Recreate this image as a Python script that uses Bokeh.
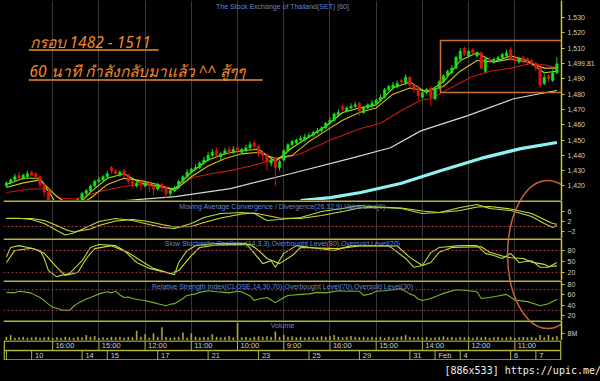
import numpy as np
from bokeh.plotting import figure
from bokeh.layouts import column
from bokeh.models import (Range1d, LinearAxis, FixedTicker, Grid, Span, Label,
                          BoxAnnotation, NumeralTickFormatter)
from bokeh.core.properties import value
from bokeh.embed import file_html
from bokeh.resources import INLINE

# ---------------- data ----------------
opens = [1420,1422,1424,1427,1425,1426,1429,1428,1426,1421,
         1416,1410,1406,1404,1403,1402,1404,1406,1411,1415,
         1417,1420,1423,1424,1426,1432,1430,1427,1430,1427,
         1423,1420,1423,1420,1422,1420,1418,1421,1419,1415,
         1417,1419,1423,1426,1429,1431,1432,1435,1437,1440,
         1443,1439,1441,1444,1442,1445,1442,1443,1445,1448,
         1446,1442,1440,1435,1438,1432,1437,1443,1447,1448,
         1450,1450,1452,1453,1455,1456,1458,1461,1463,1466,
         1472,1469,1471,1472,1474,1468,1471,1472,1474,1476,
         1478,1483,1484,1485,1489,1487,1491,1486,1484,1478,
         1481,1484,1477,1484,1488,1492,1494,1497,1503,1510,
         1505,1509,1505,1507,1495,1503,1501,1502,1504,1505,
         1509,1504,1501,1504,1503,1502,1500,1497,1487,1492,
         1489,1494]
closes = [1422,1424,1426,1425,1427,1428,1427,1426,1421,1416,
          1410,1406,1404,1403,1402,1404,1406,1411,1415,1417,
          1420,1423,1424,1426,1428,1430,1428,1429,1427,1423,
          1421,1422,1421,1422,1420,1418,1421,1419,1415,1417,
          1419,1423,1426,1429,1431,1432,1435,1437,1440,1442,
          1440,1441,1443,1442,1444,1443,1444,1445,1447,1446,
          1441,1440,1436,1437,1432,1436,1443,1447,1449,1450,
          1451,1452,1453,1455,1456,1458,1461,1463,1467,1468,
          1470,1471,1472,1473,1469,1471,1473,1474,1476,1478,
          1483,1485,1486,1487,1488,1491,1486,1483,1479,1481,
          1483,1478,1484,1488,1492,1495,1497,1504,1508,1506,
          1508,1507,1507,1497,1503,1502,1503,1504,1506,1507,
          1503,1502,1503,1502,1501,1500,1497,1486,1491,1490,
          1494,1499.81]
highs = [1423,1425,1428,1429,1428,1430,1430,1429,1427,1422,
         1417,1411,1407,1405,1404,1405,1407,1412,1416,1418,
         1421,1424,1426,1427,1430,1433,1431,1430,1431,1428,
         1424,1423,1424,1423,1423,1421,1422,1422,1420,1418,
         1420,1424,1427,1431,1432,1434,1436,1439,1442,1444,
         1445,1442,1445,1446,1446,1447,1445,1447,1449,1450,
         1447,1443,1441,1438,1439,1437,1444,1448,1450,1451,
         1453,1454,1455,1456,1458,1459,1462,1465,1468,1470,
         1473,1472,1474,1475,1475,1472,1474,1476,1477,1480,
         1484,1486,1488,1489,1490,1493,1492,1487,1485,1482,
         1484,1485,1485,1489,1493,1496,1499,1505,1510,1511,
         1509,1510,1508,1508,1504,1504,1504,1505,1507,1509,
         1511,1505,1504,1505,1504,1503,1501,1498,1493,1493,
         1496,1504]
lows = [1419,1421,1423,1424,1424,1425,1426,1425,1419,1413,
        1405,1403,1401,1400,1399,1400,1403,1405,1410,1414,
        1416,1419,1422,1423,1425,1428,1426,1426,1425,1421,
        1419,1419,1417,1419,1416,1414,1417,1416,1412,1413,
        1416,1418,1422,1425,1428,1430,1431,1434,1436,1439,
        1438,1437,1440,1440,1441,1441,1441,1442,1444,1444,
        1439,1436,1430,1433,1420,1430,1436,1442,1446,1447,
        1449,1449,1451,1452,1454,1455,1457,1460,1462,1465,
        1469,1468,1470,1471,1466,1467,1470,1471,1473,1475,
        1477,1482,1483,1484,1486,1486,1485,1481,1476,1477,
        1480,1472,1476,1483,1487,1491,1493,1496,1502,1505,
        1504,1505,1504,1496,1494,1500,1500,1501,1503,1504,
        1502,1500,1500,1500,1499,1498,1495,1484,1486,1488,
        1488,1493]
volume_m = [4,6,3,3.5,4,3,3.5,4,3,3.5,
            4,3,3.5,3,4,3.5,3,4,3.5,6,
            4,5,3,3.5,3,4,3.5,4,3,4,
            3.5,11,4,7,3,8,4,15,4,3,
            3.5,4,9,3,8,4,3.5,4,3.5,7,
            4,3.5,4,5,3.5,20,3.5,4,3,4,
            4.5,4,5,4,10,4,6,4,4.5,3.5,
            4,3,4,3.5,4,4.5,4,5,6,4,
            3.5,4,5,4,3.5,4,3.5,4,3.5,4,
            3,4,3.5,4,4.5,6,4,3.5,4,3.5,
            4,3,3.5,4,4.5,3.5,4,3,4,3.5,
            4,3,4,3.5,4,3,3.5,4,3,3.5,
            4,3,3.5,4,3.5,4,3,6,3.5,6,
            4,5]

# moving averages (knot bar index, price)
ma_fast_x = [0,4,8,12,16,20,24,28,32,36,40,44,48,52,56,60,64,68,72,76,80,84,88,92,96,100,104,108,112,116,120,124,128,131]
ma_fast_y = [1421,1425,1425,1408,1404,1416,1425,1428,1422,1420,1418,1429,1437,1441,1443,1444,1436,1445,1452,1459,1468,1471,1473,1484,1488,1481,1488,1502,1507,1501,1505,1502,1494,1495]
ma_mid_x = [0,4,8,12,16,20,24,28,32,36,40,44,48,52,56,60,64,68,72,76,80,84,88,92,96,100,104,108,112,116,120,124,128,131]
ma_mid_y = [1419,1422,1424,1413,1406,1412,1421,1425,1423.5,1421,1417,1426,1433,1438,1441,1442,1438,1440,1449,1456,1463,1468,1471,1480,1484,1482,1485,1495,1502,1501,1503,1501,1497,1497]
ma_slow_x = [0,5.7,9.3,12.9,16.4,22.4,28.3,33.1,36.7,40.2,43.8,48.6,53.3,58.1,62.9,66.4,70,77.1,84.3,89,93.8,98.6,101,105.7,110.5,115.2,120,124.8,128.3,131]
ma_slow_y = [1415.7,1418,1418,1412,1411.5,1416.5,1420,1421,1419,1418,1425,1428,1430,1433,1436.6,1438.6,1441,1450,1457.5,1461,1469,1476,1477,1484,1491,1495,1497,1500,1499,1497]
ma_long_x = [28.3,40.2,53.3,67.6,81.9,91.4,98.6,109.8,120.7,131]
ma_long_y = [1410.5,1413,1418.3,1428,1438,1445,1456,1466,1477,1482.4]
ma_200_x = [70,77.1,84.3,93.8,103.3,112.9,122.4,131]
ma_200_y = [1410.5,1412.4,1415.7,1421.6,1430,1438,1444.4,1448.4]

# MACD (26,12,9)
macd_x = [0,3,6,9,12,14,16,20,22,26,30,33,37,40,44,47,51,56,59,62,65,70,75,80,84,89,94,99,103,108,112,115,120,125,128,130,131]
macd_line = [3.3,3.3,2.8,1.2,-1.6,-3.4,-2.6,0.4,2.0,3.2,2.4,1.2,-0.4,-0.8,1.2,3.6,5.2,5.6,5.2,2.4,2.8,3.6,6.0,7.2,8.4,7.6,7.2,5.2,5.6,7.6,8.8,7.2,6.4,4.0,1.2,-0.4,0.4]
macd_signal = [3.2,3.2,3.2,2.4,0.4,-1.2,-2.2,-1.0,0.4,2.2,2.8,2.2,0.8,-0.2,0.0,1.6,3.4,5.0,5.4,4.4,3.4,3.2,4.4,6.0,7.4,7.8,7.4,6.2,5.6,6.4,7.8,8.0,7.0,5.2,2.8,1.2,0.9]

# Slow stochastic (14,3,3)
stk_x = [0,1,3,6,8,9,10,12,13,15,18,20,22,26,28,31,34,38,40,41,43,45,50,57,59,61,63,64,66,69,78,82,91,95,97,99,101,103,108,112,114,116,118,120,122,125,127,129,131]
stk_k = [62,88,93,86,80,58,25,8,12,17,52,88,96,93,80,47,31,20,14,47,80,93,99,99,72,44,52,34,72,93,80,93,93,58,34,39,74,88,93,93,72,66,58,72,47,52,34,34,47]
std_x = [0,2,6,9,12,14,17,19,21,25,29,32,35,39,41,44,46,50,58,60,62,65,68,70,79,84,93,96,99,101,103,106,113,115,118,120,123,125,128,129,131]
std_d = [47,80,86,72,34,12,20,58,85,93,74,52,31,17,25,66,88,95,97,80,58,44,66,88,85,92,92,61,39,47,75,88,90,75,65,60,58,48,42,36,38]

# RSI (14)
rsi_x = [0,2,3,5,6,8,9,10,11,12,13,14,15,16,17,19,20,22,24,25,26,27,28,29,30,32,33,35,36,38,39,40,42,43,45,46,48,50,52,53,55,56,58,59,60,62,63,64,66,67,70,72,74,76,79,81,84,85,87,88,90,92,94,96,97,98,99,101,103,104,107,109,110,112,113,115,117,119,121,123,124,126,127,128,129,130,131]
rsi_y = [65,64,67,65,63,55,49,42,36,34,31,30,30,38,44,52,55,62,66,64,67,60,55,56,53,50,49,45,43,39,42,43,53,59,62,65,68,66,65,64,67,66,58,49,52,55,50,45,55,59,61,62,65,64,68,67,67,59,63,67,68,70,72,62,59,52,49,53,60,63,70,69,68,66,53,55,58,61,50,48,47,42,39,41,43,47,51]

# axes / time labels
last_price = 1499.81
price_ticks = [1420,1430,1440,1450,1460,1470,1480,1490,last_price,1510,1520,1530]
hour_ticks = [11,22,33,44,55,66,77,88,99,110,121]
hour_labels = ["16:00","15:00","12:00","11:00","10:00","9:00","16:00","15:00","14:00","12:00","11:00"]
date_ticks = [6,18,24,36,48,60,72,84,96,102,108,120,126]
date_labels = ["10","14","15","17","21","23","25","29","31","Feb","4","6","7"]

# ---------------- styling ----------------
FW = 558
LEFT = 3
RIGHT = 39
BG = "#000000"
YEL = "#b4b43a"
AXC = "#c8c83c"
GRIDC = "#383838"
TXT = "#cfcfcf"
TITLE_C = "#6688cc"
DASH_C = "#a03a50"
GREEN = "#18e018"
RED = "#e01414"
ORANGE = "#f08a28"
ELL_C = "#c8603a"
FONT = "Liberation Sans"

XR = Range1d(-0.7, 132.1)
n = len(closes)
idx = np.arange(n)

def make_panel(h, lo, hi, ticks, overrides=None, fmt=None, top_line=True):
    p = figure(frame_width=FW, frame_height=h, x_range=XR, y_range=Range1d(lo, hi),
               output_backend="svg", toolbar_location=None,
               x_axis_location=None, y_axis_location=None,
               min_border_left=LEFT, min_border_right=RIGHT,
               min_border_top=0, min_border_bottom=0,
               background_fill_color=BG, border_fill_color=BG,
               outline_line_color=None)
    p.xgrid.visible = False
    p.ygrid.visible = False
    ax = LinearAxis(ticker=FixedTicker(ticks=ticks))
    ax.axis_line_color = AXC
    ax.axis_line_width = 1.5
    ax.major_tick_line_color = AXC
    ax.minor_tick_line_color = None
    ax.major_tick_out = 3
    ax.major_tick_in = 0
    ax.major_label_text_color = TXT
    ax.major_label_text_font_size = "7px"
    ax.major_label_text_font = FONT
    ax.major_label_standoff = 3
    if overrides:
        ax.major_label_overrides = overrides
    if fmt:
        ax.formatter = fmt
    p.add_layout(ax, "right")
    p.add_layout(Grid(dimension=0, ticker=FixedTicker(ticks=hour_ticks),
                      grid_line_color=GRIDC, grid_line_width=1))
    if top_line:
        p.add_layout(Span(location=hi, dimension="width", line_color=YEL, line_width=3))
    return p

def title(p, text, y):
    p.add_layout(Label(x=FW / 2, y=y, x_units="screen", text=text, text_align="center",
                       text_baseline="middle", text_color=TITLE_C, text_font_size="7px",
                       text_font=FONT))

def ellipse_part(p, top_ref, bot_ref, lo, hi):
    cy_ref = 254.0
    cy = hi - (cy_ref - top_ref) / (bot_ref - top_ref) * (hi - lo)
    p.ellipse(x=[128.8], y=[cy], width=80, height=148, width_units="screen",
              height_units="screen", fill_color=None, line_color=ELL_C, line_width=1.5)

# ---------------- price panel ----------------
P_LO, P_HI = 1410.5, 1541.2
pp = make_panel(200, P_LO, P_HI, price_ticks, top_line=False,
                overrides={last_price: "1,499.81"},
                fmt=NumeralTickFormatter(format="0,0"))
title(pp, "The Stock Exchange of Thailand(SET) [60]", 1537.3)

pp.line(ma_200_x, ma_200_y, line_color="#8ef2f2", line_width=3.2)
pp.line(ma_long_x, ma_long_y, line_color="#d8d8d8", line_width=1.2)
pp.line(ma_slow_x, ma_slow_y, line_color="#c81818", line_width=1.1)
pp.line(ma_mid_x, ma_mid_y, line_color="#d8c020", line_width=1.1)
pp.line(ma_fast_x, ma_fast_y, line_color="#a8e030", line_width=1.1)

o = np.array(opens, dtype=float)
c = np.array(closes, dtype=float)
colors = [GREEN if cc >= oo else RED for oo, cc in zip(o, c)]
pp.segment(x0=idx, y0=lows, x1=idx, y1=highs, line_color=colors, line_width=1)
pp.vbar(x=idx, width=0.6, top=np.maximum(o, c), bottom=np.minimum(o, c),
        fill_color=colors, line_color=colors, line_width=0.5)

pp.add_layout(BoxAnnotation(left=103.3, right=138.3, bottom=1481, top=1515,
                            fill_color=None, fill_alpha=0, line_color="#c87430",
                            line_width=1.5, line_alpha=1))
ellipse_part(pp, 0, 200, P_LO, P_HI)

# hand-written note (orange, underlined)
pp.text(x=[5.5], y=[1514.3], text=["กรอบ 1482 - 1511"], text_font=value("Noto Sans"),
        text_font_style="italic", text_font_size="15.5px", text_color=ORANGE,
        text_baseline="middle")
pp.segment(x0=[5.3], y0=[1508.9], x1=[36.2], y1=[1508.9], line_color=ORANGE, line_width=1.5)
pp.text(x=[5.5], y=[1495.1], text=["60 นาที กำลังกลับมาแล้ว ^^ สู้ๆๆ"], text_font=value("Noto Sans"),
        text_font_style="italic", text_font_size="15.5px", text_color=ORANGE,
        text_baseline="middle")
pp.segment(x0=[5.3], y0=[1489.3], x1=[61.0], y1=[1489.3], line_color=ORANGE, line_width=1.5)

# ---------------- MACD ----------------
M_LO, M_HI = -4.8, 10.4
pm = make_panel(38, M_LO, M_HI, [-2, 2, 6])
title(pm, "Moving Average Convergence / Divergence(26,12,9) Value Line(0)", 8.0)
pm.add_layout(Span(location=0, dimension="width", line_color=DASH_C, line_dash="2 2", line_width=1))
pm.line(macd_x, macd_signal, line_color="#d8d830", line_width=1.1)
pm.line(macd_x, macd_line, line_color="#a8e040", line_width=1.1)
ellipse_part(pm, 200, 238, M_LO, M_HI)

# ---------------- Stochastic ----------------
S_LO, S_HI = -2, 112.5
ps = make_panel(42, S_LO, S_HI, [20, 50, 80])
title(ps, "Slow Stochastic Oscillator(14,3,3),Overbought Level(80),Oversold Level(20)", 99)
for lv in (80, 20):
    ps.add_layout(Span(location=lv, dimension="width", line_color=DASH_C, line_dash="2 2", line_width=1))
ps.line(std_x, std_d, line_color="#d8d830", line_width=1.1)
ps.line(stk_x, stk_k, line_color="#a8e040", line_width=1.1)
ellipse_part(ps, 238, 280, S_LO, S_HI)

# ---------------- RSI ----------------
R_LO, R_HI = 10.3, 88
pr = make_panel(40, R_LO, R_HI, [20, 40, 60, 80])
title(pr, "Relative Strength Index(CLOSE,14,30,70),Overbought Level(70),Oversold Level(30)", 76.3)
for lv in (70, 30):
    pr.add_layout(Span(location=lv, dimension="width", line_color=DASH_C, line_dash="2 2", line_width=1))
pr.line(rsi_x, rsi_y, line_color="#78b828", line_width=1.1)
ellipse_part(pr, 280, 320, R_LO, R_HI)

# ---------------- Volume ----------------
V_LO, V_HI = 0, 22.9
pv = make_panel(20, V_LO, V_HI, [8], overrides={8: "8M"})
title(pv, "Volume", 17.1)
pv.vbar(x=idx, width=0.28, top=volume_m, bottom=0, fill_color="#b0b038", line_color="#b0b038",
        line_width=0.4)
ellipse_part(pv, 320, 340, V_LO, V_HI)

# ---------------- time axis rows ----------------
pb = figure(frame_width=FW, frame_height=20, x_range=XR, y_range=Range1d(20, 0),
            output_backend="svg", toolbar_location=None,
            x_axis_location=None, y_axis_location=None,
            min_border_left=LEFT, min_border_right=RIGHT,
            min_border_top=0, min_border_bottom=0,
            background_fill_color=BG, border_fill_color=BG, outline_line_color=None)
pb.xgrid.visible = False
pb.ygrid.visible = False
x_lo, x_hi = -0.55, 131.95
pb.segment(x0=[x_lo, x_lo, x_lo], y0=[0.5, 10, 19.4], x1=[x_hi, x_hi, x_hi], y1=[0.5, 10, 19.4],
           line_color=YEL, line_width=1.5)
pb.segment(x0=[x_lo, x_hi], y0=[0, 0], x1=[x_lo, x_hi], y1=[20, 20], line_color=YEL, line_width=1.5)
pb.segment(x0=hour_ticks, y0=[0] * len(hour_ticks), x1=hour_ticks, y1=[10] * len(hour_ticks),
           line_color=YEL, line_width=1)
dsep = [0] + date_ticks
pb.segment(x0=dsep, y0=[10] * len(dsep), x1=dsep, y1=[20] * len(dsep), line_color=YEL, line_width=1)
pb.text(x=[t + 0.7 for t in hour_ticks], y=[5.3] * len(hour_ticks), text=hour_labels,
        text_font=value(FONT), text_font_size="7.5px", text_color=TXT,
        text_baseline="middle", text_align="left")
pb.text(x=[t + 0.8 for t in date_ticks], y=[15.3] * len(date_ticks), text=date_labels,
        text_font=value(FONT), text_font_size="7.5px", text_color=TXT,
        text_baseline="middle", text_align="left")

# ---------------- watermark strip ----------------
pw = figure(frame_width=600, frame_height=21, x_range=Range1d(0, 600), y_range=Range1d(21, 0),
            output_backend="svg", toolbar_location=None,
            x_axis_location=None, y_axis_location=None,
            min_border_left=0, min_border_right=0, min_border_top=0, min_border_bottom=0,
            background_fill_color=BG, border_fill_color=BG, outline_line_color=None)
pw.xgrid.visible = False
pw.ygrid.visible = False
pw.text(x=[441], y=[10], text=["[886x533] https://upic.me/"], text_font=value("DejaVu Sans Mono"),
        text_font_size="10px", text_color="#f0f0f0", text_baseline="middle", text_align="left")

layout = column(pp, pm, ps, pr, pv, pb, pw, spacing=0, background=BG)
open("out.html", "w").write(file_html(layout, INLINE))
